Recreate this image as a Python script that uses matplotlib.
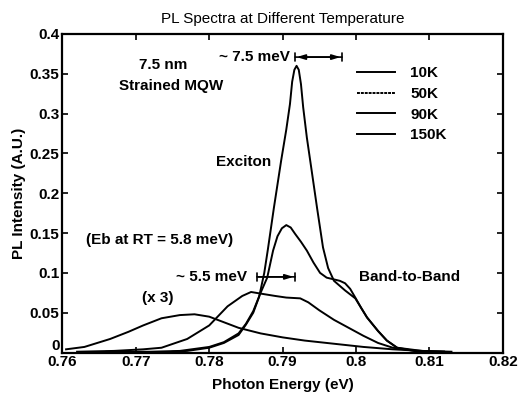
import matplotlib
matplotlib.use('Agg')
import matplotlib.pyplot as plt
from matplotlib.lines import Line2D

plt.rcParams['font.family'] = ['Liberation Sans', 'DejaVu Sans']

# 10K
e_10k = [0.775, 0.777, 0.780, 0.782, 0.784, 0.785, 0.786, 0.7868, 0.7875, 0.788,
         0.7888, 0.7898, 0.7905, 0.7910, 0.7913, 0.7916, 0.7919, 0.7922, 0.7925,
         0.7928, 0.7933, 0.7939, 0.7947, 0.7955, 0.7962, 0.7970, 0.7985, 0.7999,
         0.8015, 0.8030, 0.8042, 0.8056, 0.808, 0.812]
i_10k = [0.001, 0.002, 0.006, 0.012, 0.022, 0.035, 0.050, 0.070, 0.100, 0.130,
         0.181, 0.241, 0.280, 0.312, 0.340, 0.355, 0.360, 0.355, 0.337,
         0.308, 0.270, 0.232, 0.181, 0.132, 0.106, 0.090, 0.078, 0.068,
         0.044, 0.027, 0.015, 0.006, 0.002, 0.001]

# 50K
e_50k = [0.766, 0.772, 0.776, 0.780, 0.782, 0.784, 0.785, 0.786, 0.787, 0.7879,
         0.7887, 0.7893, 0.7899, 0.7905, 0.7911, 0.7917, 0.7925, 0.7933, 0.7942,
         0.7951, 0.7960, 0.7969, 0.7978, 0.7985, 0.7992, 0.7999, 0.8007, 0.8015,
         0.8030, 0.8042, 0.8056, 0.809, 0.813]
i_50k = [0.001, 0.001, 0.002, 0.007, 0.013, 0.024, 0.036, 0.052, 0.075, 0.094,
         0.128, 0.146, 0.156, 0.160, 0.157, 0.149, 0.139, 0.128, 0.113,
         0.100, 0.094, 0.092, 0.090, 0.087, 0.080, 0.069, 0.056, 0.044,
         0.027, 0.015, 0.006, 0.002, 0.001]

# 90K
e_90k = [0.762, 0.767, 0.771, 0.7735, 0.777, 0.780, 0.7825, 0.7845, 0.7857, 0.787,
         0.789, 0.7905, 0.7924, 0.7935, 0.795, 0.797, 0.799, 0.801, 0.803, 0.805,
         0.808, 0.812]
i_90k = [0.001, 0.002, 0.004, 0.006, 0.017, 0.034, 0.058, 0.071, 0.076, 0.074,
         0.071, 0.069, 0.068, 0.063, 0.053, 0.041, 0.031, 0.021, 0.012, 0.006,
         0.002, 0.001]

# 150K (x 3)
e_150k = [0.7605, 0.763, 0.7665, 0.769, 0.771, 0.7735, 0.776, 0.778, 0.780, 0.782,
          0.784, 0.787, 0.790, 0.793, 0.797, 0.801, 0.805, 0.809]
i_150k = [0.004, 0.007, 0.017, 0.026, 0.034, 0.043, 0.047, 0.048, 0.045, 0.038,
          0.031, 0.024, 0.019, 0.015, 0.011, 0.007, 0.004, 0.002]

labels = ['10K', '50K', '90K', '150K']
x_ticks = [0.76, 0.77, 0.78, 0.79, 0.8, 0.81, 0.82]
x_ticklabels = ['0.76', '0.77', '0.78', '0.79', '0.8', '0.81', '0.82']
y_ticks = [0, 0.05, 0.1, 0.15, 0.2, 0.25, 0.3, 0.35, 0.4]
y_ticklabels = ['0', '0.05', '0.1', '0.15', '0.2', '0.25', '0.3', '0.35', '0.4']

fig = plt.figure(figsize=(5.2, 3.98), dpi=100)
ax = fig.add_axes([0.120, 0.1143, 0.847, 0.8003])

lw = 1.4
ax.plot(e_10k, i_10k, color='black', lw=lw)
ax.plot(e_50k, i_50k, color='black', lw=lw)
ax.plot(e_90k, i_90k, color='black', lw=lw)
ax.plot(e_150k, i_150k, color='black', lw=lw)

ax.set_xlim(0.76, 0.82)
ax.set_ylim(0, 0.4)
ax.set_xticks(x_ticks)
ax.set_xticklabels(x_ticklabels)
ax.set_yticks(y_ticks)
ax.set_yticklabels(y_ticklabels)
ax.tick_params(direction='in', length=4, width=1.2, top=True, right=True,
               labelsize=11, pad=2)
for t in ax.get_xticklabels() + ax.get_yticklabels():
    t.set_fontweight('bold')
# "0" sits a little above the x labels, as in the scan
ax.get_yticklabels()[0].set_verticalalignment('bottom')
for s in ax.spines.values():
    s.set_linewidth(1.6)

ax.set_title('PL Spectra at Different Temperature', fontsize=11, pad=8)
ax.set_xlabel('Photon Energy (eV)', fontsize=11, fontweight='bold', labelpad=6)
ax.set_ylabel('PL Intensity (A.U.)', fontsize=11, fontweight='bold', labelpad=3)

# legend (50K key drawn with fine dashes like the original)
handles = [Line2D([], [], color='black', lw=lw),
           Line2D([], [], color='black', lw=lw, linestyle=(0, (1.5, 0.5))),
           Line2D([], [], color='black', lw=lw),
           Line2D([], [], color='black', lw=lw)]
leg = ax.legend(handles, labels, loc='upper left', bbox_to_anchor=(0.668, 0.898),
                frameon=False, borderpad=0, borderaxespad=0, handlelength=2.5,
                handletextpad=1.0, labelspacing=0.43,
                prop={'size': 11, 'weight': 'bold'})

# annotations
txt = dict(fontsize=11, fontweight='bold', ha='center', va='center')
ax.text(0.7737, 0.361, '7.5 nm', **txt)
ax.text(0.7748, 0.335, 'Strained MQW', **txt)
ax.text(0.7847, 0.239, 'Exciton', **txt)
ax.text(0.7732, 0.141, '(Eb at RT = 5.8 meV)', **txt)
ax.text(0.8073, 0.095, 'Band-to-Band', **txt)
ax.text(0.7730, 0.068, '(x 3)', **txt)
ax.text(0.7910, 0.371, '~ 7.5 meV', fontsize=11, fontweight='bold', ha='right', va='center')
ax.text(0.7851, 0.095, '~ 5.5 meV', fontsize=11, fontweight='bold', ha='right', va='center')

# width markers
ax.annotate('', xy=(0.7981, 0.371), xytext=(0.7917, 0.371),
            arrowprops=dict(arrowstyle='|-|, widthA=0.3, widthB=0.3', lw=1.2, color='black',
                            shrinkA=0, shrinkB=0))
ax.annotate('', xy=(0.7979, 0.371), xytext=(0.7919, 0.371),
            arrowprops=dict(arrowstyle='<|-|>, head_length=0.5, head_width=0.15', lw=1.2,
                            color='black', shrinkA=0, shrinkB=0))
ax.annotate('', xy=(0.7917, 0.095), xytext=(0.7865, 0.095),
            arrowprops=dict(arrowstyle='|-|, widthA=0.3, widthB=0.3', lw=1.2, color='black',
                            shrinkA=0, shrinkB=0))
ax.annotate('', xy=(0.7915, 0.095), xytext=(0.7867, 0.095),
            arrowprops=dict(arrowstyle='-|>, head_length=0.5, head_width=0.15', lw=1.2,
                            color='black', shrinkA=0, shrinkB=0))

fig.savefig('out.png', dpi=100)
